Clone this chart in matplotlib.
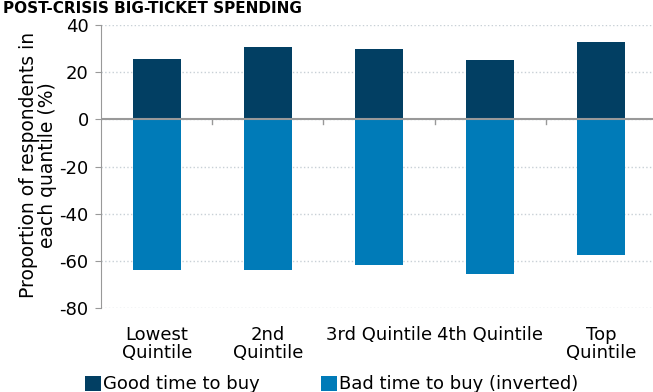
import matplotlib
matplotlib.use("Agg")
import matplotlib.pyplot as plt
import numpy as np

# data
categories = ["Lowest\nQuintile", "2nd\nQuintile", "3rd Quintile", "4th Quintile", "Top\nQuintile"]
good_time = [25.6, 30.7, 29.8, 25.2, 32.8]
bad_time_inverted = [-64.0, -64.0, -61.8, -65.6, -57.5]
y_ticks = [40, 20, 0, -20, -40, -60, -80]

dark_blue = "#023f63"
light_blue = "#007bb8"

plt.rcParams["font.family"] = ["DejaVu Sans"]
plt.rcParams["axes.unicode_minus"] = False

fig = plt.figure(figsize=(6.53, 3.92), dpi=100)
ax = fig.add_axes([0.155, 0.214, 0.851, 0.722])

x = np.arange(len(categories))
ax.bar(x, good_time, width=0.43, color=dark_blue, zorder=3, label="Good time to buy")
ax.bar(x, bad_time_inverted, width=0.43, color=light_blue, zorder=3,
       label="Bad time to buy (inverted)")

ax.set_xlim(-0.5, 4.5)
ax.set_ylim(-80, 40)
ax.set_yticks(y_ticks)
ax.tick_params(axis="y", labelsize=13, length=4, color="#999999", pad=5)
ax.set_xticks([])

# category labels placed under the plot area
for xi, lab in zip(x, categories):
    ax.text(xi, -87.5, lab, ha="center", va="top", fontsize=13,
            transform=ax.transData, linespacing=1.0)

# category separator ticks on the zero line
for xb in x[:-1] + 0.5:
    ax.plot([xb, xb], [0, -2], color="#999999", lw=1, zorder=4, clip_on=False)

ax.axhline(0, color="#999999", lw=1.5, zorder=4)
ax.yaxis.grid(True, linestyle=":", color="#c8d0d6", lw=1, zorder=0)
for side in ["top", "right", "bottom"]:
    ax.spines[side].set_visible(False)
ax.spines["left"].set_color("#999999")

ax.set_ylabel("Proportion of respondents in\neach quantile (%)", fontsize=13.5,
              linespacing=1.0)
ax.yaxis.set_label_coords(-0.08, 0.505)

fig.text(0.005, 0.997, "POST-CRISIS BIG-TICKET SPENDING", fontsize=11, fontweight="bold",
         ha="left", va="top", color="black")

handles, labels = ax.get_legend_handles_labels()
fig.legend(handles, labels, loc="lower left", bbox_to_anchor=(0.105, -0.045), ncol=2,
           frameon=False, fontsize=13, handlelength=0.9, handleheight=0.9,
           handletextpad=0.1, columnspacing=3.4)

fig.savefig("out.png", dpi=100)
